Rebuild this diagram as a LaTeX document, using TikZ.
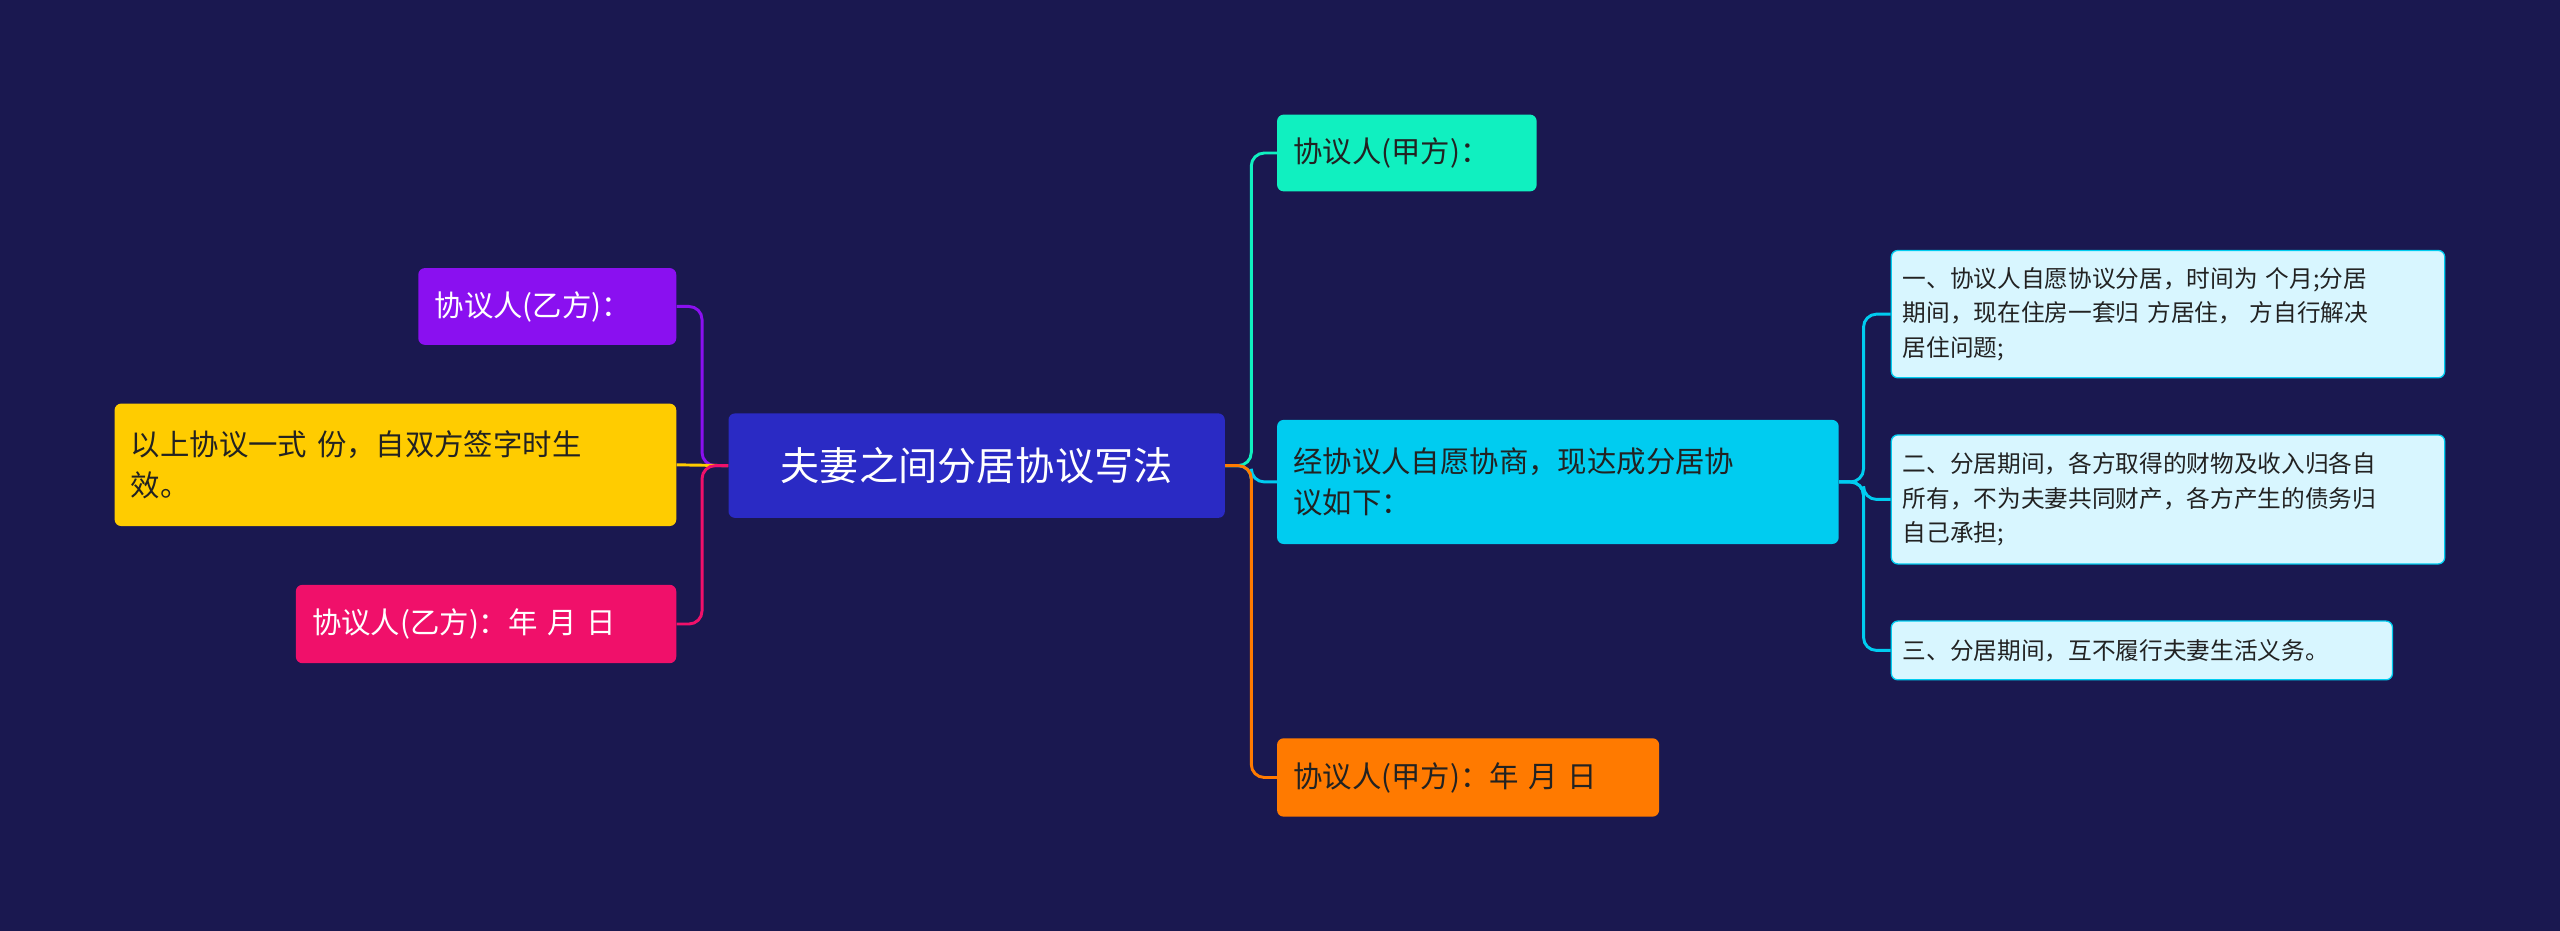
\documentclass[tikz,border=0pt]{standalone}
\usepackage{fontspec}
\newfontfamily\cjk{Noto Sans CJK SC}
\definecolor{bg}{HTML}{1A1850}
\definecolor{cen}{HTML}{2A2AC4}
\definecolor{pur}{HTML}{8A10F0}
\definecolor{yel}{HTML}{FFCC00}
\definecolor{pnk}{HTML}{F0106A}
\definecolor{teal}{HTML}{10F0C0}
\definecolor{cyn}{HTML}{00CCF0}
\definecolor{org}{HTML}{FF7A00}
\definecolor{lc}{HTML}{D8F6FF}
\definecolor{dk}{HTML}{222222}
\tikzset{
 box/.style={rectangle, rounded corners=4pt, inner sep=0pt, align=left, anchor=north west},
 big/.style={font={\cjk\fontsize{18}{25}\selectfont}},
 sml/.style={font={\cjk\fontsize{14.5}{21}\selectfont}, fill=lc, draw=cyn, line width=0.8pt, text=dk},
 conn/.style={line width=1.8pt, rounded corners=8pt},
}
\begin{document}
\begin{tikzpicture}[x=1pt,y=-1pt]
\fill[bg] (0,0) rectangle (1568,570);
\node[box, fill=cen, text=white, minimum width=304pt, minimum height=64pt, align=center, font={\cjk\fontsize{24}{28}\selectfont}] (c) at (446,253) {夫妻之间分居协议写法};
% left
\node[box, big, fill=pur, text=white, minimum width=158pt, minimum height=47pt, text width=138pt] (l1) at (256,164) {协议人(乙方)：};
\node[box, big, fill=yel, text=dk, minimum width=344pt, minimum height=75pt, text width=324pt] (l2) at (70,247) {以上协议一式 份，自双方签字时生\\效。};
\node[box, big, fill=pnk, text=white, minimum width=233pt, minimum height=48pt, text width=213pt] (l3) at (181,358) {协议人(乙方)：年 月 日};
% right
\node[box, big, fill=teal, text=dk, minimum width=159pt, minimum height=47pt, text width=139pt] (r1) at (782,70) {协议人(甲方)：};
\node[box, big, fill=cyn, text=dk, minimum width=344pt, minimum height=76pt, text width=324pt] (r2) at (782,257) {经协议人自愿协商，现达成分居协\\议如下：};
\node[box, big, fill=org, text=dk, minimum width=234pt, minimum height=48pt, text width=214pt] (r3) at (782,452) {协议人(甲方)：年 月 日};
% sub
\node[box, sml, minimum width=339pt, minimum height=78pt, text width=325pt] (s1) at (1158,153) {一、协议人自愿协议分居，时间为 个月;分居\\期间，现在住房一套归 方居住， 方自行解决\\居住问题;};
\node[box, sml, minimum width=339pt, minimum height=79pt, text width=325pt] (s2) at (1158,266) {二、分居期间，各方取得的财物及收入归各自\\所有，不为夫妻共同财产，各方产生的债务归\\自己承担;};
\node[box, sml, minimum width=307pt, minimum height=36pt, text width=293pt] (s3) at (1158,380) {三、分居期间，互不履行夫妻生活义务。};
% connectors
\draw[conn, pur] (c.west) -- ++(-16,0) |- (l1.east);
\draw[conn, yel] (c.west) -- (l2.east);
\draw[conn, pnk] (c.west) -- ++(-16,0) |- (l3.east);
\draw[conn, teal] (c.east) -- ++(16,0) |- (r1.west);
\draw[conn, cyn] (c.east) -- ++(16,0) |- (r2.west);
\draw[conn, org] (c.east) -- ++(16,0) |- (r3.west);
\draw[conn, cyn] (r2.east) -- ++(15,0) |- (s1.west);
\draw[conn, cyn] (r2.east) -- ++(15,0) |- (s2.west);
\draw[conn, cyn] (r2.east) -- ++(15,0) |- (s3.west);
\end{tikzpicture}
\end{document}
